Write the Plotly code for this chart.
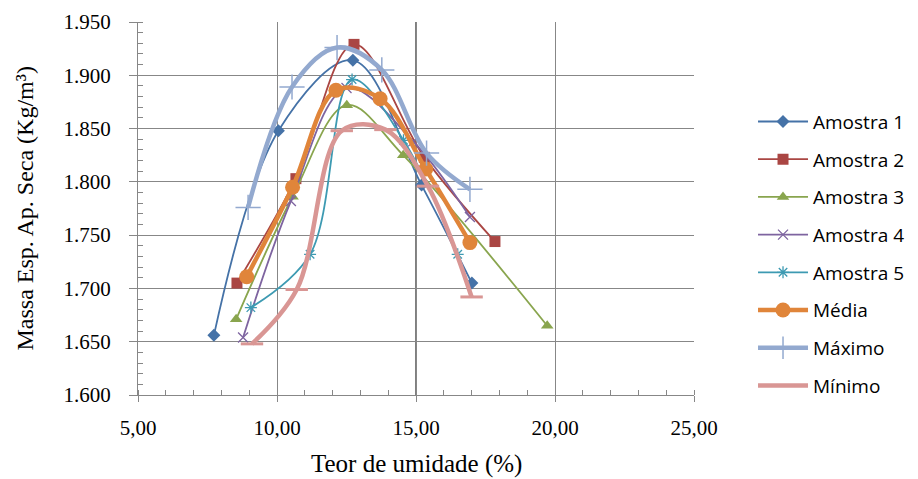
import plotly.graph_objects as go

# ---- data ----
series_names = ["Amostra 1", "Amostra 2", "Amostra 3", "Amostra 4", "Amostra 5", "Média", "Máximo", "Mínimo"]

x_a1 = [7.73, 10.05, 12.73, 15.20, 17.01]
y_a1 = [1.656, 1.848, 1.914, 1.797, 1.705]

x_a2 = [8.56, 10.68, 12.77, 15.30, 17.84]
y_a2 = [1.705, 1.803, 1.929, 1.823, 1.744]

x_a3 = [8.53, 10.56, 12.51, 14.54, 19.72]
y_a3 = [1.671, 1.786, 1.872, 1.825, 1.665]

x_a4 = [8.78, 10.50, 12.50, 14.90, 16.94]
y_a4 = [1.654, 1.782, 1.888, 1.838, 1.767]

x_a5 = [9.06, 11.19, 12.70, 14.55, 16.50]
y_a5 = [1.682, 1.732, 1.896, 1.839, 1.732]

x_med = [8.91, 10.56, 12.12, 13.71, 15.35, 16.94]
y_med = [1.711, 1.795, 1.886, 1.878, 1.812, 1.743]

x_max = [8.96, 10.54, 12.16, 13.77, 15.38, 16.94]
y_max = [1.776, 1.889, 1.926, 1.905, 1.827, 1.793]

x_min = [9.10, 10.71, 12.33, 13.90, 15.43, 17.00]
y_min = [1.648, 1.699, 1.848, 1.849, 1.796, 1.692]

x_tickvals = [5, 10, 15, 20, 25]
x_ticktext = ["5,00", "10,00", "15,00", "20,00", "25,00"]
y_tickvals = [1.60, 1.65, 1.70, 1.75, 1.80, 1.85, 1.90, 1.95]
y_ticktext = ["1.600", "1.650", "1.700", "1.750", "1.800", "1.850", "1.900", "1.950"]

x_title = "Teor de umidade (%)"
y_title = "Massa Esp. Ap. Seca (Kg/m³)"

# ---- styles ----
styles = [
    dict(color="#4572A7", width=1.8, symbol="diamond", size=10, mline=0),
    dict(color="#AA4643", width=1.8, symbol="square", size=11, mline=0),
    dict(color="#89A54E", width=1.8, symbol="triangle-up", size=11, mline=0),
    dict(color="#7E64A0", width=1.8, symbol="x-thin-open", size=10, mline=1.3),
    dict(color="#3D9AB2", width=1.8, symbol="asterisk-open", size=10, mline=1.3),
    dict(color="#E0853A", width=4.5, symbol="circle", size=15, mline=0),
    dict(color="#93A9CF", width=4.5, symbol="cross-thin-open", size=18, mline=1.5),
    dict(color="#D99694", width=4.5, symbol="line-ew-open", size=16, mline=3),
]
xs = [x_a1, x_a2, x_a3, x_a4, x_a5, x_med, x_max, x_min]
ys = [y_a1, y_a2, y_a3, y_a4, y_a5, y_med, y_max, y_min]

fig = go.Figure()
for i, (name, x, y, st) in enumerate(zip(series_names, xs, ys, styles)):
    fig.add_trace(go.Scatter(
        x=x, y=y, name=name, mode="lines+markers", legendgroup=f"g{i}",
        line=dict(color=st["color"], width=st["width"], shape="spline", smoothing=1.0),
        marker=dict(symbol=st["symbol"], size=st["size"], color=st["color"],
                    line=dict(color=st["color"], width=st["mline"])),
    ))

grid = "#878787"
serif = "Liberation Serif, Times New Roman, serif"
# the page body adds an 8 px margin, so the figure is 8 px smaller on each side
fig.update_layout(
    width=910, height=471,
    margin=dict(l=130, r=224, t=14, b=84, autoexpand=False),
    paper_bgcolor="white", plot_bgcolor="white",
    font=dict(family=serif, color="black"),
    legend=dict(
        xref="container", yref="container",
        x=0.8187, y=0.799, xanchor="left", yanchor="top",
        font=dict(family="Open Sans, Liberation Sans, sans-serif", size=19, color="black"),
        tracegroupgap=10, itemwidth=50, bgcolor="rgba(0,0,0,0)", maxheight=440,
    ),
    xaxis=dict(
        range=[5, 25], tickvals=x_tickvals, ticktext=x_ticktext,
        showgrid=True, gridcolor=grid, gridwidth=1.2,
        showline=True, linecolor=grid, linewidth=1.3,
        ticks="outside", ticklen=6, tickcolor=grid,
        minor=dict(dtick=1, ticks="inside", ticklen=5, tickcolor=grid, showgrid=False),
        tickfont=dict(family=serif, size=21), ticklabelstandoff=8,
        automargin=False, zeroline=False, fixedrange=True,
    ),
    yaxis=dict(
        range=[1.6, 1.95], tickvals=y_tickvals, ticktext=y_ticktext,
        showgrid=True, gridcolor=grid, gridwidth=1.2,
        showline=True, linecolor=grid, linewidth=1.3,
        ticks="outside", ticklen=8, tickcolor=grid,
        minor=dict(dtick=0.01, ticks="inside", ticklen=5, tickcolor=grid, showgrid=False),
        tickfont=dict(family=serif, size=21), ticklabelstandoff=14,
        automargin=False, zeroline=False, fixedrange=True,
    ),
    shapes=[dict(type="line", xref="x", yref="paper", x0=x_tickvals[2], x1=x_tickvals[2],
                 y0=0, y1=1, line=dict(color="#7F7F7F", width=2), layer="below")],
    annotations=[
        dict(text=x_title, xref="paper", yref="paper", x=0.5, y=-0.185,
             xanchor="center", yanchor="middle", showarrow=False,
             font=dict(family=serif, size=25, color="black")),
        dict(text=y_title, xref="paper", yref="paper", x=-0.205, y=0.5,
             xanchor="center", yanchor="middle", showarrow=False, textangle=-90,
             font=dict(family=serif, size=24, color="black")),
    ],
)

fig.write_html("out.html")
